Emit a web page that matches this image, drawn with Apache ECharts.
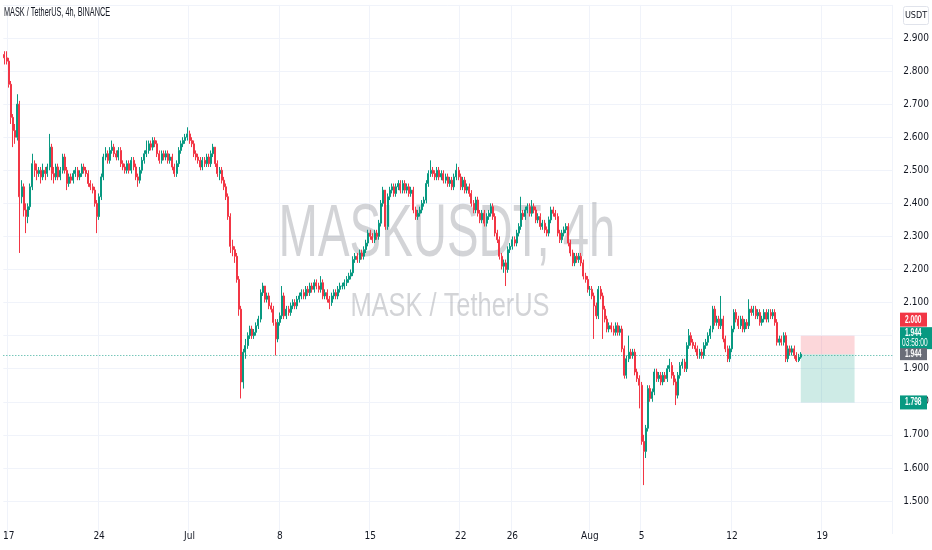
<!DOCTYPE html>
<html><head><meta charset="utf-8">
<script src="https://cdn.jsdelivr.net/npm/echarts@6/dist/echarts.min.js"></script>
<style>html,body{margin:0;padding:0;background:#fff}#c{width:932px;height:550px}</style>
</head><body><div id="c"></div>
<script>
// ---- data (MASK / TetherUS, 4h candles) ----
const opens = [
2.85,2.84,2.83,2.76,2.66,2.62,2.60,2.70,2.42,2.45,
2.38,2.36,2.39,2.45,2.52,2.50,2.49,2.50,2.48,2.50,
2.49,2.51,2.57,2.49,2.48,2.51,2.48,2.50,2.54,2.50,
2.46,2.48,2.47,2.49,2.50,2.48,2.49,2.51,2.50,2.49,
2.46,2.45,2.44,2.40,2.36,2.42,2.48,2.54,2.55,2.53,
2.56,2.57,2.55,2.54,2.56,2.52,2.51,2.50,2.52,2.50,
2.53,2.51,2.48,2.47,2.50,2.53,2.55,2.56,2.58,2.57,
2.59,2.58,2.55,2.53,2.55,2.54,2.55,2.53,2.54,2.51,
2.49,2.52,2.56,2.58,2.59,2.60,2.61,2.59,2.58,2.55,
2.54,2.53,2.51,2.53,2.52,2.54,2.52,2.55,2.57,2.52,
2.49,2.50,2.47,2.45,2.42,2.36,2.27,2.26,2.24,2.17,
2.08,1.86,1.95,1.97,2.00,2.02,2.00,2.01,2.03,2.05,
2.13,2.15,2.11,2.12,2.09,2.08,2.04,1.99,2.04,2.06,
2.12,2.06,2.08,2.07,2.09,2.10,2.09,2.11,2.12,2.13,
2.12,2.14,2.13,2.15,2.14,2.16,2.15,2.14,2.16,2.12,
2.13,2.11,2.10,2.12,2.13,2.12,2.14,2.15,2.15,2.16,
2.17,2.18,2.19,2.23,2.24,2.23,2.25,2.24,2.26,2.28,
2.31,2.30,2.29,2.31,2.30,2.34,2.40,2.44,2.33,2.42,
2.44,2.45,2.43,2.45,2.46,2.44,2.46,2.44,2.45,2.43,
2.44,2.38,2.36,2.37,2.38,2.40,2.41,2.46,2.49,2.50,
2.49,2.48,2.50,2.48,2.49,2.47,2.48,2.46,2.47,2.45,
2.48,2.50,2.48,2.45,2.47,2.44,2.45,2.43,2.40,2.38,
2.41,2.37,2.35,2.37,2.34,2.36,2.37,2.39,2.36,2.31,
2.29,2.24,2.21,2.22,2.20,2.26,2.27,2.29,2.28,2.31,
2.33,2.37,2.36,2.38,2.39,2.37,2.39,2.38,2.35,2.36,
2.33,2.34,2.32,2.31,2.35,2.38,2.37,2.36,2.31,2.29,
2.31,2.32,2.33,2.28,2.25,2.22,2.24,2.23,2.24,2.22,
2.18,2.17,2.14,2.14,2.12,2.09,2.06,2.14,2.12,2.08,
2.05,2.02,2.03,2.02,2.01,2.03,2.01,2.02,1.96,1.88,
1.93,1.95,1.94,1.95,1.89,1.87,1.85,1.68,1.65,1.72,
1.84,1.81,1.83,1.89,1.87,1.88,1.86,1.88,1.87,1.90,
1.91,1.88,1.86,1.82,1.88,1.91,1.92,1.90,1.97,2.00,
1.98,1.97,1.96,1.94,1.95,1.94,1.97,1.98,2.00,2.02,
2.08,2.04,2.05,2.03,2.05,1.99,1.96,1.93,1.96,2.02,
2.07,2.05,2.03,2.05,2.02,2.04,2.03,2.08,2.07,2.08,
2.06,2.07,2.04,2.05,2.07,2.05,2.07,2.06,2.07,2.04,
1.98,1.99,1.98,2.00,1.93,1.96,1.95,1.96,1.94,1.925,
1.935];
const closes = [
2.84,2.83,2.76,2.66,2.62,2.60,2.70,2.42,2.45,2.38,
2.36,2.39,2.45,2.52,2.50,2.49,2.50,2.48,2.50,2.49,
2.51,2.57,2.49,2.48,2.51,2.48,2.50,2.54,2.50,2.46,
2.48,2.47,2.49,2.50,2.48,2.49,2.51,2.50,2.49,2.46,
2.45,2.44,2.40,2.36,2.42,2.48,2.54,2.55,2.53,2.56,
2.57,2.55,2.54,2.56,2.52,2.51,2.50,2.52,2.50,2.53,
2.51,2.48,2.47,2.50,2.53,2.55,2.56,2.58,2.57,2.59,
2.58,2.55,2.53,2.55,2.54,2.55,2.53,2.54,2.51,2.49,
2.52,2.56,2.58,2.59,2.60,2.61,2.59,2.58,2.55,2.54,
2.53,2.51,2.53,2.52,2.54,2.52,2.55,2.57,2.52,2.49,
2.50,2.47,2.45,2.42,2.36,2.27,2.26,2.24,2.17,2.08,
1.86,1.95,1.97,2.00,2.02,2.00,2.01,2.03,2.05,2.13,
2.15,2.11,2.12,2.09,2.08,2.04,1.99,2.04,2.06,2.12,
2.06,2.08,2.07,2.09,2.10,2.09,2.11,2.12,2.13,2.12,
2.14,2.13,2.15,2.14,2.16,2.15,2.14,2.16,2.12,2.13,
2.11,2.10,2.12,2.13,2.12,2.14,2.15,2.15,2.16,2.17,
2.18,2.19,2.23,2.24,2.23,2.25,2.24,2.26,2.28,2.31,
2.30,2.29,2.31,2.30,2.34,2.40,2.44,2.33,2.42,2.44,
2.45,2.43,2.45,2.46,2.44,2.46,2.44,2.45,2.43,2.44,
2.38,2.36,2.37,2.38,2.40,2.41,2.46,2.49,2.50,2.49,
2.48,2.50,2.48,2.49,2.47,2.48,2.46,2.47,2.45,2.48,
2.50,2.48,2.45,2.47,2.44,2.45,2.43,2.40,2.38,2.41,
2.37,2.35,2.37,2.34,2.36,2.37,2.39,2.36,2.31,2.29,
2.24,2.21,2.22,2.20,2.26,2.27,2.29,2.28,2.31,2.33,
2.37,2.36,2.38,2.39,2.37,2.39,2.38,2.35,2.36,2.33,
2.34,2.32,2.31,2.35,2.38,2.37,2.36,2.31,2.29,2.31,
2.32,2.33,2.28,2.25,2.22,2.24,2.23,2.24,2.22,2.18,
2.17,2.14,2.14,2.12,2.09,2.06,2.14,2.12,2.08,2.05,
2.02,2.03,2.02,2.01,2.03,2.01,2.02,1.96,1.88,1.93,
1.95,1.94,1.95,1.89,1.87,1.85,1.68,1.65,1.72,1.84,
1.81,1.83,1.89,1.87,1.88,1.86,1.88,1.87,1.90,1.91,
1.88,1.86,1.82,1.88,1.91,1.92,1.90,1.97,2.00,1.98,
1.97,1.96,1.94,1.95,1.94,1.97,1.98,2.00,2.02,2.08,
2.04,2.05,2.03,2.05,1.99,1.96,1.93,1.96,2.02,2.07,
2.05,2.03,2.05,2.02,2.04,2.03,2.08,2.07,2.08,2.06,
2.07,2.04,2.05,2.07,2.05,2.07,2.06,2.07,2.04,1.98,
1.99,1.98,2.00,1.93,1.96,1.95,1.96,1.94,1.925,1.935,
1.944];
const lows = [
2.82,2.82,2.75,2.64,2.57,2.58,2.59,2.25,2.40,2.36,
2.31,2.34,2.38,2.44,2.48,2.47,2.48,2.46,2.47,2.47,
2.48,2.50,2.47,2.46,2.47,2.47,2.47,2.49,2.49,2.44,
2.45,2.46,2.46,2.48,2.47,2.47,2.48,2.49,2.48,2.45,
2.44,2.43,2.39,2.31,2.35,2.41,2.47,2.53,2.52,2.52,
2.55,2.54,2.53,2.53,2.51,2.50,2.49,2.49,2.49,2.49,
2.50,2.47,2.45,2.46,2.49,2.52,2.54,2.55,2.56,2.56,
2.57,2.54,2.52,2.52,2.53,2.53,2.52,2.52,2.50,2.48,
2.48,2.51,2.55,2.57,2.58,2.59,2.58,2.57,2.54,2.53,
2.52,2.50,2.50,2.51,2.51,2.51,2.51,2.54,2.51,2.48,
2.47,2.46,2.44,2.41,2.35,2.25,2.24,2.22,2.16,2.06,
1.81,1.84,1.93,1.96,1.99,1.99,1.99,2.00,2.02,2.04,
2.12,2.10,2.10,2.08,2.07,2.03,1.94,1.98,2.03,2.05,
2.05,2.05,2.06,2.06,2.08,2.08,2.08,2.10,2.11,2.11,
2.11,2.12,2.12,2.13,2.13,2.14,2.13,2.13,2.11,2.11,
2.10,2.08,2.09,2.11,2.11,2.11,2.13,2.14,2.14,2.15,
2.16,2.17,2.18,2.22,2.22,2.22,2.23,2.23,2.25,2.27,
2.29,2.28,2.28,2.29,2.29,2.33,2.39,2.32,2.32,2.41,
2.43,2.42,2.42,2.44,2.43,2.43,2.43,2.43,2.42,2.42,
2.37,2.35,2.35,2.36,2.37,2.39,2.40,2.45,2.48,2.48,
2.47,2.47,2.47,2.47,2.46,2.46,2.45,2.45,2.44,2.44,
2.47,2.47,2.44,2.44,2.43,2.43,2.42,2.39,2.37,2.37,
2.36,2.34,2.34,2.33,2.33,2.35,2.36,2.35,2.30,2.28,
2.23,2.20,2.19,2.15,2.19,2.25,2.26,2.27,2.27,2.30,
2.32,2.35,2.35,2.37,2.36,2.36,2.37,2.34,2.34,2.32,
2.32,2.31,2.30,2.30,2.34,2.36,2.35,2.30,2.28,2.28,
2.30,2.31,2.27,2.24,2.21,2.21,2.22,2.22,2.21,2.17,
2.16,2.13,2.12,2.11,1.99,2.05,2.05,2.11,1.99,2.04,
2.01,2.01,2.01,2.00,2.00,2.00,2.00,1.95,1.87,1.87,
1.92,1.93,1.93,1.88,1.86,1.78,1.67,1.548,1.63,1.71,
1.80,1.80,1.82,1.86,1.86,1.85,1.85,1.86,1.86,1.89,
1.87,1.85,1.79,1.81,1.87,1.90,1.89,1.89,1.96,1.97,
1.96,1.95,1.93,1.93,1.93,1.93,1.96,1.97,1.99,2.01,
2.03,2.03,2.02,2.02,1.98,1.95,1.92,1.92,1.95,2.01,
2.04,2.02,2.02,2.01,2.01,2.02,2.02,2.06,2.06,2.05,
2.05,2.03,2.03,2.04,2.04,2.04,2.05,2.05,2.03,1.97,
1.97,1.97,1.97,1.92,1.92,1.94,1.94,1.93,1.92,1.92,
1.93];
const highs = [
2.86,2.86,2.84,2.77,2.67,2.64,2.73,2.71,2.47,2.46,
2.40,2.40,2.46,2.55,2.53,2.52,2.51,2.51,2.52,2.51,
2.52,2.61,2.58,2.51,2.52,2.52,2.51,2.55,2.55,2.51,
2.49,2.49,2.50,2.51,2.51,2.50,2.52,2.52,2.51,2.50,
2.47,2.46,2.45,2.41,2.43,2.49,2.55,2.57,2.56,2.57,
2.59,2.58,2.56,2.57,2.57,2.53,2.52,2.53,2.53,2.54,
2.54,2.52,2.49,2.51,2.54,2.56,2.59,2.59,2.59,2.60,
2.60,2.59,2.56,2.56,2.56,2.56,2.56,2.55,2.55,2.52,
2.53,2.57,2.59,2.60,2.61,2.63,2.62,2.60,2.59,2.56,
2.55,2.54,2.54,2.54,2.55,2.55,2.56,2.58,2.57,2.53,
2.51,2.51,2.48,2.46,2.43,2.37,2.29,2.27,2.25,2.18,
2.09,1.96,1.99,2.01,2.03,2.03,2.02,2.04,2.06,2.14,
2.16,2.15,2.13,2.13,2.10,2.09,2.05,2.05,2.07,2.15,
2.13,2.09,2.09,2.10,2.11,2.11,2.12,2.13,2.14,2.14,
2.15,2.15,2.16,2.16,2.17,2.17,2.16,2.18,2.17,2.14,
2.14,2.12,2.13,2.14,2.14,2.15,2.16,2.16,2.17,2.18,
2.19,2.20,2.24,2.25,2.25,2.26,2.26,2.27,2.29,2.32,
2.32,2.31,2.32,2.32,2.35,2.41,2.45,2.44,2.43,2.45,
2.46,2.46,2.46,2.47,2.47,2.47,2.47,2.46,2.46,2.45,
2.45,2.39,2.38,2.39,2.41,2.42,2.47,2.50,2.53,2.51,
2.50,2.51,2.51,2.50,2.50,2.49,2.49,2.48,2.48,2.49,
2.52,2.51,2.49,2.48,2.48,2.46,2.46,2.44,2.41,2.42,
2.42,2.38,2.38,2.38,2.37,2.38,2.40,2.40,2.37,2.32,
2.30,2.25,2.23,2.23,2.27,2.28,2.30,2.30,2.32,2.34,
2.42,2.38,2.39,2.40,2.40,2.41,2.40,2.39,2.37,2.37,
2.35,2.35,2.33,2.36,2.39,2.39,2.38,2.37,2.32,2.32,
2.33,2.34,2.34,2.29,2.26,2.25,2.25,2.25,2.25,2.23,
2.19,2.18,2.15,2.15,2.13,2.10,2.15,2.15,2.13,2.09,
2.06,2.04,2.04,2.03,2.04,2.04,2.03,2.03,1.97,1.94,
2.00,1.96,1.96,1.96,1.90,1.88,1.86,1.70,1.73,1.85,
1.85,1.84,1.90,1.90,1.89,1.89,1.89,1.89,1.91,1.93,
1.92,1.89,1.87,1.89,1.92,1.93,1.93,1.98,2.02,2.01,
1.99,1.98,1.97,1.96,1.96,1.98,1.99,2.01,2.03,2.09,
2.09,2.06,2.06,2.12,2.06,2.00,1.97,1.97,2.03,2.08,
2.08,2.06,2.06,2.06,2.05,2.05,2.11,2.09,2.09,2.09,
2.08,2.08,2.06,2.08,2.08,2.08,2.08,2.08,2.08,2.05,
2.00,2.00,2.01,2.01,1.97,1.97,1.97,1.97,1.95,1.945,
1.95];
const tickDates = ['2024-06-17 00:00','2024-06-24 00:00','2024-07-01 00:00','2024-07-08 00:00','2024-07-15 00:00','2024-07-22 00:00','2024-07-26 00:00','2024-08-01 00:00','2024-08-05 00:00','2024-08-12 00:00','2024-08-19 00:00'];
const tickTexts = ['17','24','Jul','8','15','22','26','Aug','5','12','19'];
const firstCandleUTC = [2024, 5, 16, 16];   // 16 Jun 2024 16:00, 4h bars
const slotCount = 413;                       // bars + empty future space
const lastPrice = 1.944, stopPrice = 2.000, targetPrice = 1.798;
const countdown = '03:58:00';
const boxStartIndex = 370, boxEndIndex = 395;

// ---- build ----
const pad = n => String(n).padStart(2, '0');
const categories = [];
const t0 = Date.UTC(...firstCandleUTC);
for (let i = 0; i < slotCount; i++) {
  const d = new Date(t0 + i * 4 * 3600 * 1000);
  categories.push(d.getUTCFullYear() + '-' + pad(d.getUTCMonth() + 1) + '-' + pad(d.getUTCDate()) + ' ' + pad(d.getUTCHours()) + ':00');
}
const tickMap = {};
tickDates.forEach((d, k) => tickMap[d] = tickTexts[k]);
const ohlc = opens.map((o, i) => [o, closes[i], lows[i], highs[i]]);

const UP = '#089981', DOWN = '#f23645';
const FONT = '"Liberation Sans Narrow","DejaVu Sans Condensed","Liberation Sans",sans-serif';
const GRIDC = '#f0f3fa';
const splitColors = [];
for (let k = 0; k < 17; k++) splitColors.push(k === 0 ? 'rgba(0,0,0,0)' : GRIDC);

const chart = echarts.init(document.getElementById('c'), null, { renderer: 'canvas' });
chart.setOption({
  animation: false,
  backgroundColor: '#ffffff',
  grid: { left: 0, right: 37, top: 4.93, bottom: 15.95, containLabel: false },
  xAxis: {
    type: 'category', data: categories, boundaryGap: true, offset: -14,
    axisLine: { show: false }, axisTick: { show: false },
    axisLabel: {
      interval: (idx, val) => tickMap[val] !== undefined,
      formatter: v => tickMap[v] || '',
      margin: 11, fontSize: 10, color: '#131722', fontFamily: FONT
    },
    splitLine: { show: true, interval: (idx, val) => tickMap[val] !== undefined, lineStyle: { color: GRIDC, width: 1 } }
  },
  yAxis: {
    type: 'value', position: 'right', min: 1.4, max: 3.0, interval: 0.1,
    axisLine: { show: false }, axisTick: { show: false },
    axisLabel: {
      margin: 11, fontSize: 10, color: '#131722', fontFamily: FONT,
      formatter: v => (v < 1.45 || v > 2.95) ? '' : v.toFixed(3)
    },
    splitLine: { show: true, lineStyle: { color: splitColors, width: 1 } }
  },
  series: [{
    type: 'candlestick',
    data: ohlc,
    barWidth: 1.5,
    itemStyle: { color: UP, color0: DOWN, borderColor: UP, borderColor0: DOWN, borderWidth: 1 },
    markLine: {
      silent: true, symbol: ['none', 'none'], label: { show: false },
      lineStyle: { color: UP, type: [1, 2], width: 1, opacity: 0.8 },
      data: [{ yAxis: lastPrice }]
    },
    markArea: {
      silent: true,
      data: [
        [{ xAxis: categories[boxStartIndex], yAxis: stopPrice, itemStyle: { color: 'rgba(242,54,69,0.2)' } },
         { xAxis: categories[boxEndIndex], yAxis: lastPrice }],
        [{ xAxis: categories[boxStartIndex], yAxis: lastPrice, itemStyle: { color: 'rgba(8,153,129,0.2)' } },
         { xAxis: categories[boxEndIndex], yAxis: targetPrice }]
      ]
    }
  }]
});

const py = p => chart.convertToPixel({ yAxisIndex: 0 }, p);
const yStop = py(stopPrice), yLast = py(lastPrice), yTarget = py(targetPrice);
const lbl = (x, y, text, weight) => ({
  type: 'text', x: x, y: y, z: 101, scaleX: 0.6,
  style: { text: text, fill: '#ffffff', fontSize: 11, fontWeight: weight || 'bold', fontFamily: 'Liberation Sans',
           align: 'left', textAlign: 'left', verticalAlign: 'middle', textVerticalAlign: 'middle' }
});
chart.setOption({
  graphic: [
    { type: 'text', x: 447, y: 236, scaleX: 0.64, z: 0, silent: true,
      style: { text: 'MASKUSDT, 4h', fontSize: 74, fontFamily: 'Liberation Sans', fill: 'rgba(120,123,134,0.33)',
               align: 'center', textAlign: 'center', verticalAlign: 'middle', textVerticalAlign: 'middle' } },
    { type: 'text', x: 450, y: 307, scaleX: 0.77, z: 0, silent: true,
      style: { text: 'MASK / TetherUS', fontSize: 33, fontFamily: 'Liberation Sans', fill: 'rgba(120,123,134,0.33)',
               align: 'center', textAlign: 'center', verticalAlign: 'middle', textVerticalAlign: 'middle' } },
    { type: 'text', x: 4, y: 13, scaleX: 0.61, z: 100,
      style: { text: 'MASK / TetherUS, 4h, BINANCE', fontSize: 12, fontFamily: 'Liberation Sans', fill: '#131722',
               align: 'left', textAlign: 'left', verticalAlign: 'middle', textVerticalAlign: 'middle' } },
    { type: 'rect', z: 100, shape: { x: 903.5, y: 6.5, width: 25, height: 18, r: 2 },
      style: { fill: '#ffffff', stroke: '#e0e3eb', lineWidth: 1 } },
    { type: 'text', x: 916, y: 15.5, z: 101,
      style: { text: 'USDT', fontSize: 9, fontFamily: FONT, fill: '#131722',
               align: 'center', textAlign: 'center', verticalAlign: 'middle', textVerticalAlign: 'middle' } },
    { type: 'rect', z: 100, shape: { x: 900, y: yStop - 23, width: 27, height: 14 }, style: { fill: DOWN } },
    lbl(905, yStop - 16, stopPrice.toFixed(3)),
    { type: 'rect', z: 100, shape: { x: 900, y: yLast - 27, width: 32, height: 22 }, style: { fill: UP } },
    lbl(905, yLast - 21, lastPrice.toFixed(3)),
    lbl(902, yLast - 11, countdown, 'normal'),
    { type: 'rect', z: 100, shape: { x: 900, y: yLast - 6, width: 27, height: 12 }, style: { fill: '#6a6d78' } },
    lbl(905, yLast, lastPrice.toFixed(3)),
    { type: 'rect', z: 100, shape: { x: 900, y: yTarget - 7, width: 27, height: 14 }, style: { fill: UP } },
    lbl(905, yTarget, targetPrice.toFixed(3))
  ]
});
</script>
</body></html>
